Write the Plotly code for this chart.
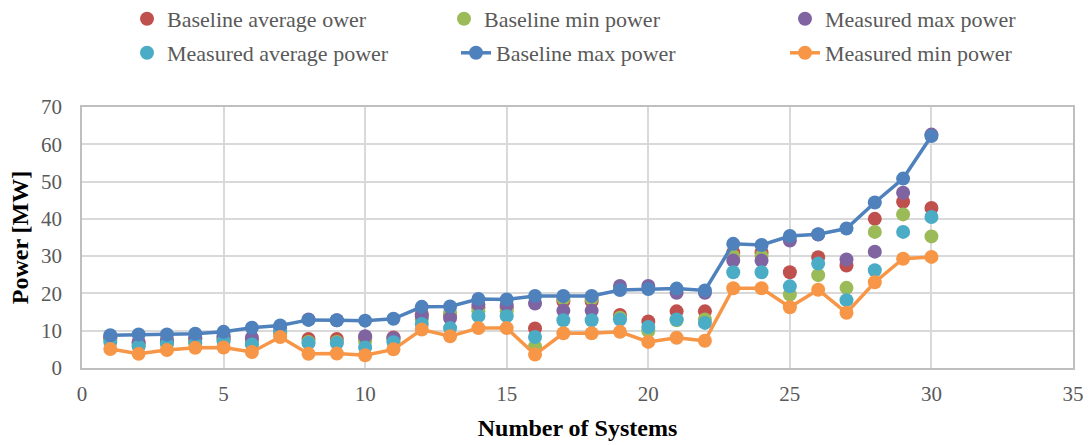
import plotly.graph_objects as go

systems = list(range(1, 31))

baseline_avg = [8.0, 7.0, 7.5, 7.8, 8.0, 7.5, 9.5, 7.8, 7.8, 8.0, 8.2, 14.5, 14.2, 16.2, 16.2,
                10.6, 17.9, 17.9, 14.2, 12.5, 15.2, 15.2, 31.0, 31.0, 25.7, 29.7, 27.5, 40.0, 44.6, 42.9]
baseline_min = [7.5, 6.0, 6.5, 7.0, 7.5, 6.5, 9.0, 7.0, 7.0, 7.2, 7.5, 13.0, 14.8, 15.2, 15.2,
                5.8, 18.6, 18.6, 13.5, 9.9, 12.8, 13.0, 30.0, 30.0, 19.7, 24.9, 21.5, 36.5, 41.2, 35.3]
measured_max = [8.3, 6.7, 7.2, 8.0, 8.5, 8.1, 10.5, 13.0, 12.8, 8.5, 8.0, 13.9, 13.4, 17.0, 16.8,
                17.3, 15.4, 15.4, 22.0, 22.0, 20.2, 20.2, 28.8, 28.8, 34.2, 35.8, 29.1, 31.2, 47.0, 62.6]
measured_avg = [7.0, 5.8, 6.5, 6.6, 7.2, 6.3, 10.0, 6.7, 6.7, 5.5, 6.9, 11.8, 10.7, 13.9, 13.9,
                8.3, 12.8, 12.8, 13.0, 11.0, 13.0, 12.1, 25.7, 25.7, 21.9, 28.0, 18.2, 26.2, 36.5, 40.5]
baseline_max = [8.8, 9.0, 9.0, 9.2, 9.7, 10.8, 11.4, 12.9, 12.8, 12.7, 13.2, 16.4, 16.5, 18.5, 18.4,
                19.3, 19.3, 19.3, 20.9, 21.2, 21.3, 20.8, 33.3, 33.0, 35.4, 35.9, 37.4, 44.4, 50.8, 62.2]
measured_min = [5.1, 3.8, 4.8, 5.4, 5.5, 4.3, 8.3, 3.8, 3.9, 3.4, 5.0, 10.3, 8.5, 10.7, 10.7,
                3.6, 9.3, 9.3, 9.7, 7.0, 8.1, 7.3, 21.4, 21.4, 16.3, 21.0, 14.8, 23.0, 29.3, 29.8]

x_ticks = [0, 5, 10, 15, 20, 25, 30, 35]
y_ticks = [0, 10, 20, 30, 40, 50, 60, 70]

FONT = "Times New Roman, Liberation Serif, serif"
GRAY = "#595959"

series = [
    ("Baseline average ower", baseline_avg, "#C0504D", "markers"),
    ("Baseline min power", baseline_min, "#9BBB59", "markers"),
    ("Measured max power", measured_max, "#8064A2", "markers"),
    ("Measured average power", measured_avg, "#4BACC6", "markers"),
    ("Baseline max power", baseline_max, "#4F81BD", "lines+markers"),
    ("Measured min power", measured_min, "#F79646", "lines+markers"),
]

fig = go.Figure()
for i, (name, vals, color, mode) in enumerate(series):
    fig.add_trace(go.Scatter(
        x=systems, y=vals, name=name, mode=mode,
        marker=dict(color=color, size=14),
        line=dict(color=color, width=3.5),
        legend="legend" if i == 0 else f"legend{i + 1}",
    ))

# legend placement (pixels -> paper)
L, R, T, B = 82, 16, 107, 77
W, H = 1089, 445
pw, ph = W - L - R, H - T - B
text_starts = [168, 485, 826, 168, 497, 826]
rows_y = [19, 19, 19, 53, 53, 53]
legends = {}
for i in range(6):
    key = "legend" if i == 0 else f"legend{i + 1}"
    legends[key] = dict(
        x=(text_starts[i] - 41 - L) / pw,
        y=(H - B - rows_y[i]) / ph,
        xanchor="left", yanchor="middle",
        bgcolor="rgba(0,0,0,0)",
        font=dict(family=FONT, size=22, color=GRAY, weight="normal"),
        orientation="h",
    )

fig.update_layout(
    width=W, height=H,
    margin=dict(l=L, r=R, t=T, b=B, autoexpand=False),
    paper_bgcolor="white", plot_bgcolor="white",
    font=dict(family=FONT, color=GRAY),
    showlegend=True,
    **legends,
)
fig.update_xaxes(
    range=[0, 35], tickvals=x_ticks, ticktext=[str(v) for v in x_ticks],
    showgrid=True, gridcolor="#d9d9d9", gridwidth=1.5,
    showline=True, linecolor="#bfbfbf", linewidth=1.5, mirror=True,
    zeroline=False, ticks="", ticklabelstandoff=6, automargin=False,
    tickfont=dict(family=FONT, size=21, color=GRAY, weight="normal"),
    title=dict(text="<b>Number of Systems</b>", font=dict(family=FONT, size=24, color="black"), standoff=14),
)
fig.update_yaxes(
    range=[0, 70], tickvals=y_ticks, ticktext=[str(v) for v in y_ticks],
    showgrid=True, gridcolor="#d9d9d9", gridwidth=1.5,
    showline=True, linecolor="#bfbfbf", linewidth=1.5, mirror=True,
    zeroline=False, ticks="", ticklabelstandoff=14, automargin=False,
    tickfont=dict(family=FONT, size=21, color=GRAY, weight="normal"),
    title=dict(text="<b>Power [MW]</b>", font=dict(family=FONT, size=24, color="black"), standoff=6),
)

fig.write_html("out.html")
